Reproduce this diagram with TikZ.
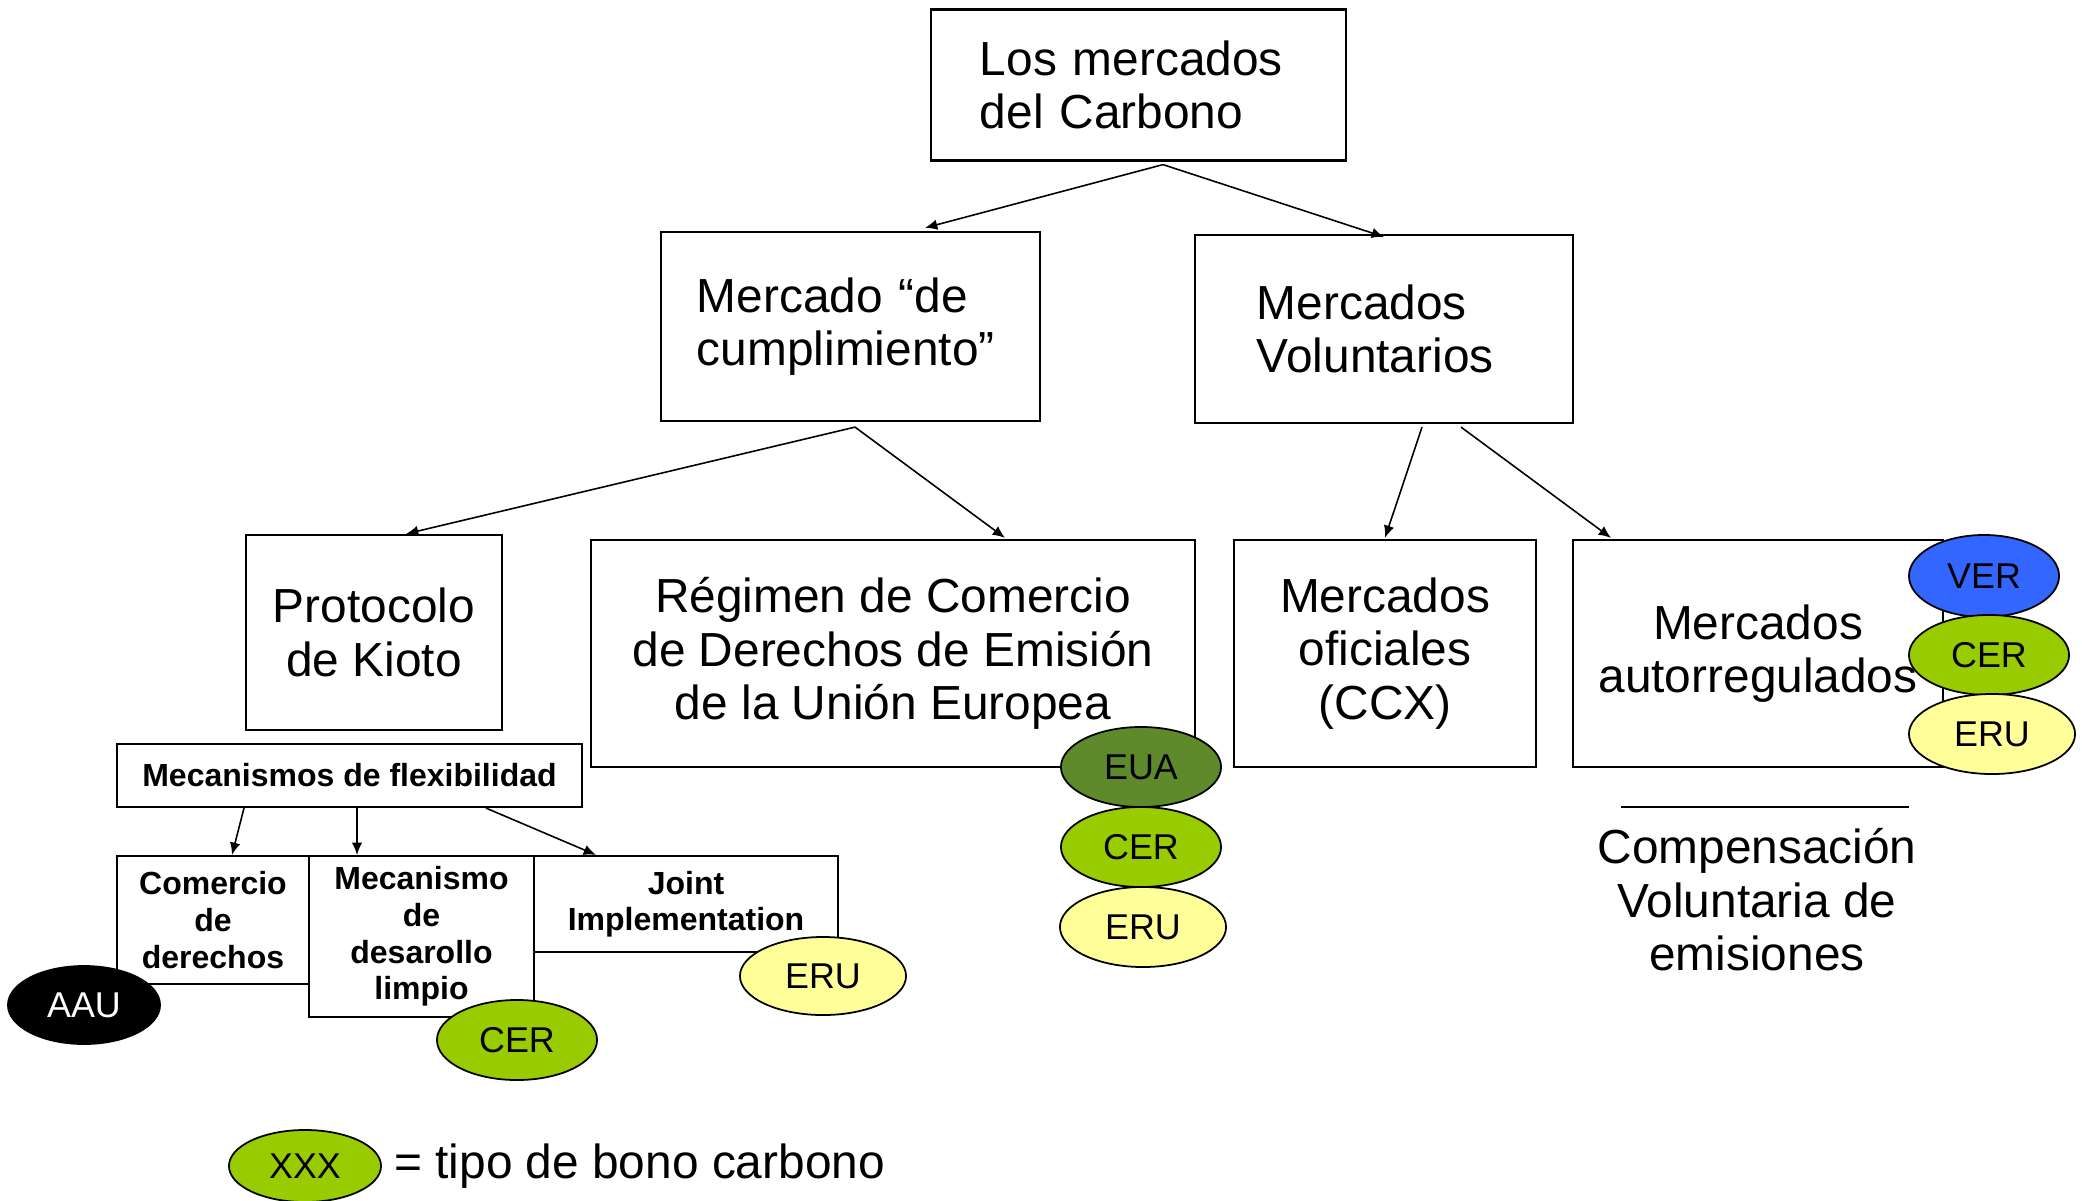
\documentclass[tikz,border=0pt]{standalone}
\usepackage{fontspec}
\setmainfont{Liberation Sans}
\usetikzlibrary{shapes.geometric,arrows.meta,calc}

\definecolor{cergreen}{HTML}{99CC00}
\definecolor{euagreen}{HTML}{5E8A2C}
\definecolor{eruyellow}{HTML}{FFFF99}
\definecolor{verblue}{HTML}{3366FF}

\begin{document}
\begin{tikzpicture}[x=0.01cm,y=-0.01cm,
    box/.style={draw,line width=0.6pt,inner sep=0pt,align=center,font=\fontsize{13.6}{15.2}\selectfont},
    small/.style={draw,line width=0.6pt,inner sep=0pt,align=center,font=\fontsize{9.1}{10.4}\selectfont\bfseries},
    bono/.style={draw,ellipse,line width=0.5pt,inner sep=0pt,minimum width=1.6cm,minimum height=0.8cm,font=\fontsize{10.2}{12}\selectfont},
    arr/.style={-{Latex[length=3.5pt,width=3pt]},line width=0.45pt}]
    \useasboundingbox (0,0) rectangle (2082,1200);

    % Markets
    \node[box,minimum height=1.51cm,inner xsep=0.49cm,text width=3.17cm,align=left] (carbono) at (1138.5,85) {Los mercados\\del Carbono};
    \node[box,minimum height=1.89cm,inner xsep=0.36cm,text width=3.07cm,align=left] (cumpl) at (850.5,326.5) {Mercado “de\\cumplimiento”};
    \node[box,minimum height=1.88cm,inner xsep=0.62cm,text width=2.54cm,align=left] (volunt) at (1384,329) {Mercados\\Voluntarios};
    \node[box,minimum width=2.56cm,minimum height=1.95cm] (kioto) at (374,632.5) {Protocolo\\de Kioto};
    \node[box,minimum width=6.04cm,minimum height=2.27cm] (regimen) at (893,653.5) {Régimen de Comercio\\de Derechos de Emisión\\de la Unión Europea};
    \node[box,minimum width=3.02cm,minimum height=2.27cm] (oficial) at (1385,653.5) {Mercados\\oficiales\\(CCX)};
    \node[box,minimum width=3.70cm,minimum height=2.27cm] (autorreg) at (1758,653.5) {Mercados\\autorregulados};

    %% Kioto mechanisms
    \node[small,minimum width=4.65cm,minimum height=0.63cm] (flex) at (349.5,775.5) {Mecanismos de flexibilidad};
    \node[small,minimum width=1.92cm,minimum height=1.28cm] (comercio) at (213,920) {Comercio\\de\\derechos};
    \node[small,minimum width=2.25cm,minimum height=1.61cm] (mdl) at (421.5,936.5) {Mecanismo\\de\\desarollo\\limpio};
    \node[small,minimum width=3.04cm,minimum height=0.96cm] (joint) at (686,904) {Joint\\Implementation};

    %% Bonds
    \node[bono,fill=black,text=white,minimum width=1.52cm,minimum height=0.78cm] (aau) at (84,1005) {AAU};
    \node[bono,fill=cergreen] (cerA) at (517,1040) {CER};
    \node[bono,fill=eruyellow,minimum width=1.66cm,minimum height=0.78cm] (eruA) at (823,976) {ERU};
    \node[bono,fill=euagreen] (eua) at (1141,767) {EUA};
    \node[bono,fill=cergreen] (cerB) at (1141,847) {CER};
    \node[bono,fill=eruyellow,minimum width=1.66cm] (eruB) at (1143,927) {ERU};
    \node[bono,fill=verblue,minimum width=1.5cm,minimum height=0.82cm] (ver) at (1984,576) {VER};
    \node[bono,fill=cergreen] (cerC) at (1989,655) {CER};
    \node[bono,fill=eruyellow,minimum width=1.66cm] (eruC) at (1992,734) {ERU};

    %% Compensation
    \draw[line width=0.6pt] (1621,807) -- (1909,807);
    \node[align=center,font=\fontsize{13.6}{15.2}\selectfont] (compens) at (1757,900) {Compensación\\Voluntaria de\\emisiones};

    %% Legend
    \node[bono,fill=cergreen,minimum width=1.52cm,minimum height=0.72cm] (xxx) at (305,1166) {XXX};
    \node[anchor=west,font=\fontsize{13.6}{15.2}\selectfont] (leyenda) at (xxx.east) {= tipo de bono carbono};

    %% Arrows
    \draw[arr] ($(carbono.south)+(24.5,3)$) -- ($(cumpl.north)+(74.5,-3)$);
    \draw[arr] ($(carbono.south)+(24.5,3)$) -- ($(volunt.north)+(0,3)$);
    \draw[arr] ($(cumpl.south)+(4.5,5)$) -- ($(kioto.north)+(32,0)$);
    \draw[arr] ($(cumpl.south)+(4.5,5)$) -- ($(regimen.north)+(112,-1)$);
    \draw[arr] ($(volunt.south)+(38,3)$) -- ($(oficial.north)+(0,-1)$);
    \draw[arr] ($(volunt.south)+(77,3)$) -- ($(autorreg.north)+(-147,-1)$);
    \draw[arr] ($(flex.south)+(-105.5,0)$) -- ($(comercio.north)+(19,0)$);
    \draw[arr] ($(flex.south)+(7.5,0)$) -- ($(mdl.north)+(-64.5,0)$);
    \draw[arr] ($(flex.south)+(136.5,0)$) -- ($(joint.north)+(-90,0)$);
\end{tikzpicture}
\end{document}
